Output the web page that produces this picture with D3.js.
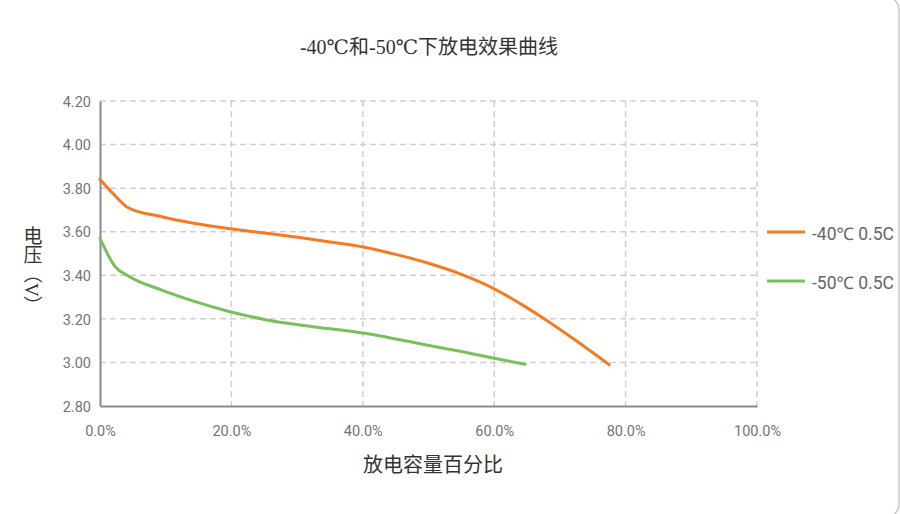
<!DOCTYPE html>
<html>
<head>
<meta charset="utf-8">
<script src="https://cdn.jsdelivr.net/npm/d3@7"></script>
<style>
  html, body { margin: 0; padding: 0; background: #fff; }
  svg { display: block; }
</style>
</head>
<body>
<div id="chart"></div>
<script>
// ── Data ──
const titleText = '-40℃和-50℃下放电效果曲线';
const xLabel = '放电容量百分比';
const yLabel = '电压（V）';

const xTicks = [0, 20, 40, 60, 80, 100];
const yTicks = [2.8, 3.0, 3.2, 3.4, 3.6, 3.8, 4.0, 4.2];

const seriesNames = ['-40℃ 0.5C', '-50℃ 0.5C'];
const seriesColors = ['#f47a24', '#78c15a'];

// discharge capacity (%) vs voltage (V)
const minus40X = [0, 2, 4.3, 9.4, 14.5, 19.5, 25, 30.4, 35, 40, 45, 50, 55, 60, 64.4, 68, 72, 77.5];
const minus40Y = [3.84, 3.775, 3.71, 3.669, 3.638, 3.615, 3.594, 3.573, 3.553, 3.53, 3.496, 3.455, 3.404, 3.338, 3.262, 3.193, 3.11, 2.99];

const minus50X = [0, 2.3, 4.3, 9.4, 14.5, 19.5, 25.4, 32.4, 40, 49.7, 55, 60, 64.7];
const minus50Y = [3.57, 3.44, 3.397, 3.332, 3.279, 3.235, 3.195, 3.164, 3.135, 3.08, 3.05, 3.019, 2.992];

// ── Layout ──
const W = 900, H = 514;
const margin = { left: 100, right: 143, top: 101, bottom: 108 };
const innerW = W - margin.left - margin.right;
const innerH = H - margin.top - margin.bottom;

const svg = d3.select('#chart').append('svg')
  .attr('width', W).attr('height', H);

// outer frame (rounded, only the right edge shows)
svg.append('rect')
  .attr('x', -14).attr('y', -4)
  .attr('width', W + 13).attr('height', H + 8)
  .attr('rx', 14)
  .attr('fill', 'none')
  .attr('stroke', '#c8c8c8')
  .attr('stroke-width', 1.5);

const g = svg.append('g')
  .attr('transform', 'translate(' + margin.left + ',' + margin.top + ')');

// ── Scales ──
const x = d3.scaleLinear().domain([0, 100]).range([0, innerW]);
const y = d3.scaleLinear().domain([2.8, 4.2]).range([innerH, 0]);

// ── Grid ──
g.append('g').selectAll('line').data(yTicks.filter(function(d) { return d > 2.8; })).join('line')
  .attr('x1', 0).attr('x2', innerW)
  .attr('y1', function(d) { return y(d); })
  .attr('y2', function(d) { return y(d); })
  .attr('stroke', '#cfcfcf').attr('stroke-width', 1.5)
  .attr('stroke-dasharray', '6,4');

g.append('g').selectAll('line').data(xTicks.filter(function(d) { return d > 0; })).join('line')
  .attr('x1', function(d) { return x(d); })
  .attr('x2', function(d) { return x(d); })
  .attr('y1', 0).attr('y2', innerH)
  .attr('stroke', '#cfcfcf').attr('stroke-width', 1.5)
  .attr('stroke-dasharray', '6,4');

// ── Axes ──
const xAxis = g.append('g')
  .attr('transform', 'translate(0,' + innerH + ')')
  .call(d3.axisBottom(x).tickValues(xTicks).tickSize(0).tickPadding(20)
    .tickFormat(function(d) { return d.toFixed(1) + '%'; }));

const yAxis = g.append('g')
  .call(d3.axisLeft(y).tickValues(yTicks).tickSize(0).tickPadding(9)
    .tickFormat(d3.format('.2f')));

[xAxis, yAxis].forEach(function(ax) {
  ax.select('.domain').attr('stroke', '#8a8a8a').attr('stroke-width', 2);
  ax.selectAll('text')
    .attr('fill', '#737373')
    .style('font-family', 'Roboto, "Noto Sans", sans-serif')
    .style('font-size', '14.5px');
});
yAxis.selectAll('text').attr('dy', '0.36em');

// ── Lines ──
const line = d3.line()
  .x(function(d) { return x(d[0]); })
  .y(function(d) { return y(d[1]); })
  .curve(d3.curveMonotoneX);

const series = [
  d3.zip(minus40X, minus40Y),
  d3.zip(minus50X, minus50Y)
];

g.append('g').selectAll('path').data(series).join('path')
  .attr('d', line)
  .attr('fill', 'none')
  .attr('stroke', function(d, i) { return seriesColors[i]; })
  .attr('stroke-width', 3)
  .attr('stroke-linecap', 'round');

// ── Legend ──
const legend = svg.append('g').attr('transform', 'translate(767,232)');
const item = legend.selectAll('g').data(seriesNames).join('g')
  .attr('transform', function(d, i) { return 'translate(0,' + (i * 49) + ')'; });

item.append('line')
  .attr('x1', 0).attr('x2', 38)
  .attr('stroke', function(d, i) { return seriesColors[i]; })
  .attr('stroke-width', 3);

item.append('text')
  .attr('x', 45).attr('y', 8)
  .attr('fill', '#666')
  .style('font-family', 'Roboto, "Noto Sans", "Noto Sans CJK SC", sans-serif')
  .style('font-size', '17.5px')
  .text(function(d) { return d; });

// ── Titles ──
svg.append('text')
  .attr('x', 429).attr('y', 54)
  .attr('text-anchor', 'middle')
  .attr('fill', '#333')
  .style('font-family', '"Liberation Serif", "DejaVu Serif", "Noto Sans CJK SC", serif')
  .style('font-size', '20px')
  .text(titleText);

svg.append('text')
  .attr('x', 433).attr('y', 472)
  .attr('text-anchor', 'middle')
  .attr('fill', '#333')
  .style('font-family', '"Liberation Serif", "Noto Sans CJK SC", serif')
  .style('font-size', '20px')
  .text(xLabel);

svg.append('text')
  .attr('x', 31).attr('y', 226)
  .attr('fill', '#333')
  .style('writing-mode', 'vertical-rl')
  .style('font-family', '"Liberation Serif", "Noto Sans CJK SC", serif')
  .style('font-size', '19px')
  .text(yLabel);
</script>
</body>
</html>
